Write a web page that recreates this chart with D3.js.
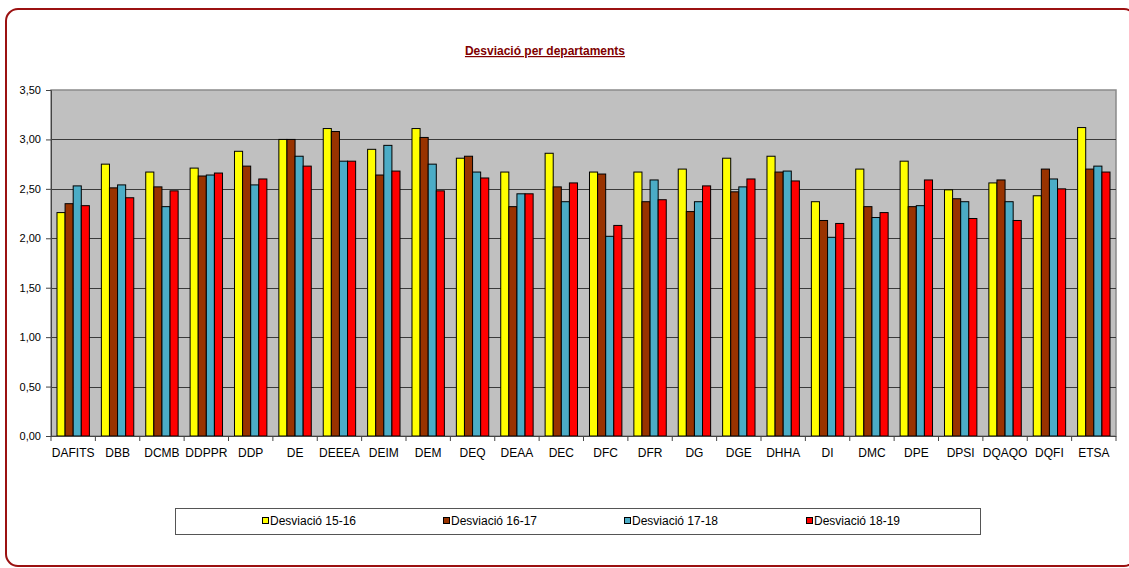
<!DOCTYPE html>
<html>
  <head>
    <meta charset="utf-8">
    <title>Desviació per departaments</title>
    <script src="https://d3js.org/d3.v7.min.js"></script>
    <style>
      body { margin: 0; background: #fff; font-family: Arial, "Liberation Sans", sans-serif; }
      svg text { font-family: Arial, "Liberation Sans", sans-serif; }
    </style>
  </head>
  <body>
    <svg width="1129" height="568"></svg>
    <script>
      // data
      var departments = ["DAFITS","DBB","DCMB","DDPPR","DDP","DE","DEEEA","DEIM","DEM","DEQ","DEAA","DEC",
                         "DFC","DFR","DG","DGE","DHHA","DI","DMC","DPE","DPSI","DQAQO","DQFI","ETSA"];
      var seriesNames = ["Desviació 15-16","Desviació 16-17","Desviació 17-18","Desviació 18-19"];
      var seriesColors = ["#ffff00","#993300","#4bacc6","#ff0000"];
      var desv1516 = [2.26,2.75,2.67,2.71,2.88,3.00,3.11,2.90,3.11,2.81,2.67,2.86,2.67,2.67,2.70,2.81,2.83,2.37,2.70,2.78,2.49,2.56,2.43,3.12];
      var desv1617 = [2.35,2.51,2.52,2.63,2.73,3.00,3.08,2.64,3.02,2.83,2.32,2.52,2.65,2.37,2.27,2.47,2.67,2.18,2.32,2.32,2.40,2.59,2.70,2.70];
      var desv1718 = [2.53,2.54,2.32,2.64,2.54,2.83,2.78,2.94,2.75,2.67,2.45,2.37,2.02,2.59,2.37,2.52,2.68,2.01,2.21,2.33,2.37,2.37,2.60,2.73];
      var desv1819 = [2.33,2.41,2.48,2.66,2.60,2.73,2.78,2.68,2.48,2.61,2.45,2.56,2.13,2.39,2.53,2.60,2.58,2.15,2.26,2.59,2.20,2.18,2.50,2.67];
      var yTicks = [0,0.5,1,1.5,2,2.5,3,3.5];

      var allSeries = [desv1516, desv1617, desv1718, desv1819];

      var svg = d3.select("svg");
      var plotLeft = 51, plotRight = 1116, plotTop = 90, plotBottom = 436;

      // outer frame
      svg.append("rect")
        .attr("x", 6).attr("y", 9).attr("width", 1130).attr("height", 557)
        .attr("rx", 12).attr("ry", 12)
        .attr("fill", "none").attr("stroke", "#9b1111").attr("stroke-width", 2);

      // title
      svg.append("text")
        .attr("x", 545).attr("y", 55)
        .attr("text-anchor", "middle")
        .attr("font-size", 12).attr("font-weight", "bold")
        .attr("fill", "#800000")
        .attr("text-decoration", "underline")
        .text("Desviació per departaments");

      var x0 = d3.scaleBand().domain(departments).range([plotLeft, plotRight]).paddingInner(0.27).paddingOuter(0.135);
      var x1 = d3.scaleBand().domain(d3.range(4)).range([0, x0.bandwidth()]);
      var y = d3.scaleLinear().domain([0, 3.5]).range([plotBottom, plotTop]);

      // plot background
      svg.append("rect")
        .attr("x", plotLeft).attr("y", plotTop).attr("width", plotRight - plotLeft).attr("height", plotBottom - plotTop)
        .attr("fill", "#c0c0c0").attr("stroke", "#8a8a8a").attr("stroke-width", 1.5);

      // gridlines
      svg.append("g").selectAll("line")
        .data(yTicks.filter(function(d){ return d > 0 && d < 3.5; }))
        .join("line")
        .attr("x1", plotLeft).attr("x2", plotRight)
        .attr("y1", function(d){ return Math.round(y(d)) + 0.5; })
        .attr("y2", function(d){ return Math.round(y(d)) + 0.5; })
        .attr("stroke", "#3a3a3a").attr("stroke-width", 1);

      // bars
      var groups = svg.append("g").selectAll("g")
        .data(departments)
        .join("g")
        .attr("transform", function(d){ return "translate(" + x0(d) + ",0)"; });

      groups.selectAll("rect")
        .data(function(d, i){ return allSeries.map(function(s, k){ return {k: k, v: s[i]}; }); })
        .join("rect")
        .attr("x", function(d){ return x1(d.k); })
        .attr("y", function(d){ return y(d.v); })
        .attr("width", x1.bandwidth())
        .attr("height", function(d){ return y(0) - y(d.v); })
        .attr("fill", function(d){ return seriesColors[d.k]; })
        .attr("stroke", "#000").attr("stroke-width", 1);

      // y axis
      var yAxis = d3.axisLeft(y).tickValues(yTicks).tickSize(5).tickPadding(5)
        .tickFormat(function(d){ return d3.format(".2f")(d).replace(".", ","); });
      var gy = svg.append("g").attr("transform", "translate(" + plotLeft + ",0)").call(yAxis);
      gy.select(".domain").attr("stroke", "#444");
      gy.selectAll(".tick line").attr("stroke", "#444");
      gy.selectAll("text").attr("font-size", 11).attr("fill", "#000");

      // x axis: ticks sit between categories
      svg.append("line")
        .attr("x1", plotLeft - 5).attr("x2", plotRight)
        .attr("y1", plotBottom + 0.5).attr("y2", plotBottom + 0.5)
        .attr("stroke", "#444");
      var step = x0.step();
      svg.append("g").selectAll("line")
        .data(d3.range(departments.length + 1))
        .join("line")
        .attr("x1", function(i){ return plotLeft + i * step; })
        .attr("x2", function(i){ return plotLeft + i * step; })
        .attr("y1", plotBottom).attr("y2", plotBottom + 5)
        .attr("stroke", "#444");
      svg.append("g").selectAll("text")
        .data(departments)
        .join("text")
        .attr("x", function(d){ return x0(d) + x0.bandwidth() / 2; })
        .attr("y", 457)
        .attr("text-anchor", "middle")
        .attr("font-size", 12)
        .text(function(d){ return d; });

      // legend
      svg.append("rect")
        .attr("x", 175.5).attr("y", 508.5).attr("width", 805).attr("height", 26)
        .attr("fill", "#fff").attr("stroke", "#555");
      var legendX = [262, 443, 624, 806];
      var items = svg.append("g").selectAll("g")
        .data(seriesNames)
        .join("g")
        .attr("transform", function(d, i){ return "translate(" + legendX[i] + ",521)"; });
      items.append("rect")
        .attr("x", 0.5).attr("y", -3.5).attr("width", 6).attr("height", 6)
        .attr("fill", function(d, i){ return seriesColors[i]; })
        .attr("stroke", "#000");
      items.append("text")
        .attr("x", 8).attr("y", 4)
        .attr("font-size", 12)
        .text(function(d){ return d; });
    </script>
  </body>
</html>
